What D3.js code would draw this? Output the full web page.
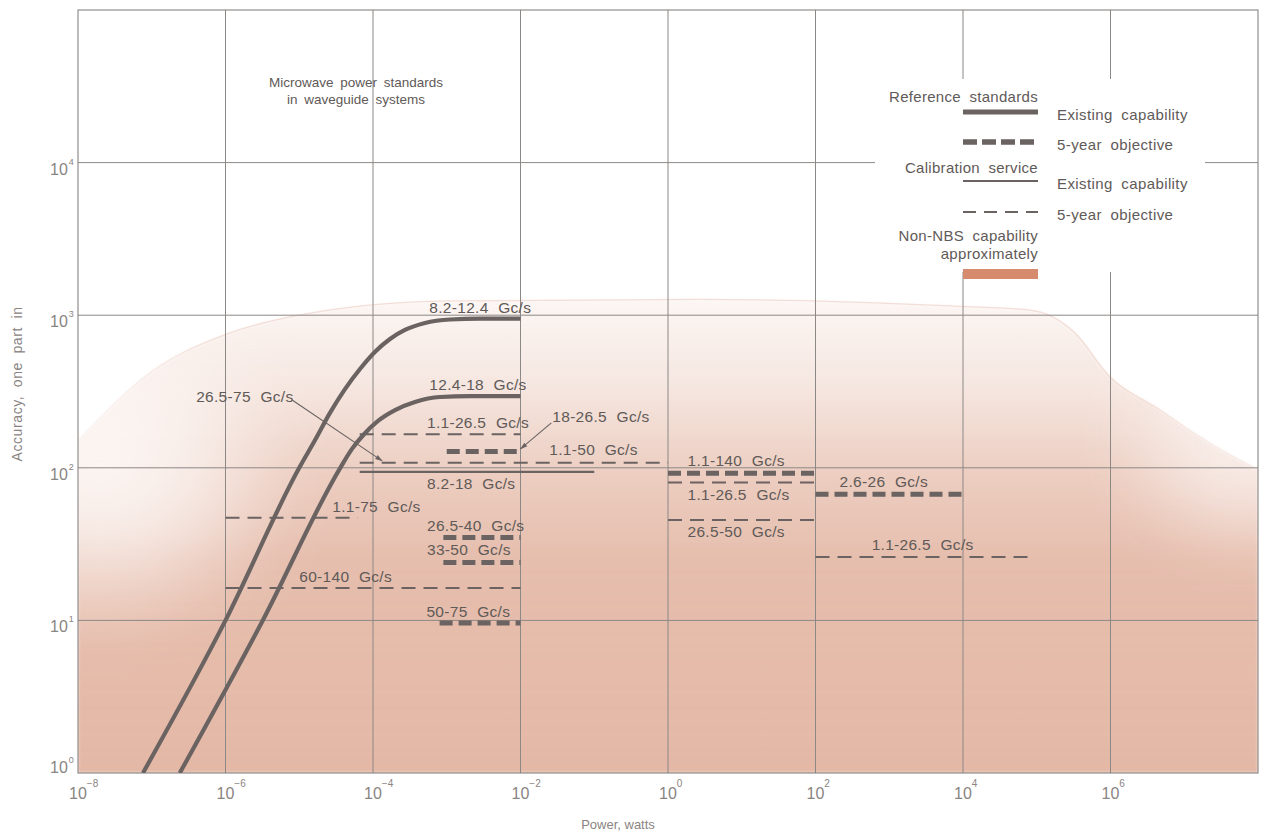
<!DOCTYPE html>
<html>
<head>
<meta charset="utf-8">
<script src="https://cdn.jsdelivr.net/npm/d3@7"></script>
<style>
  body { margin: 0; background: #fff; }
  text { font-family: "Liberation Sans", Arial, sans-serif; fill: #5f5a58; }
</style>
</head>
<body>
<div id="chart"></div>
<script>
// Axis decades
const xDecades = [1e-8, 1e-6, 1e-4, 1e-2, 1, 1e2, 1e4, 1e6];
const xExponents = ["\u22128", "\u22126", "\u22124", "\u22122", "0", "2", "4", "6"];
const yDecades = [1, 10, 100, 1000, 10000];
const yExponents = ["0", "1", "2", "3", "4"];

// Reference standards, existing capability (curves)
const curvePower812 = [7.6e-8, 1e-6, 1e-5, 1.64e-5, 2.61e-5, 4.17e-5, 6.66e-5, 1.06e-4,
                       1.70e-4, 2.71e-4, 5.07e-4, 1.11e-3, 2.82e-3, 1e-2];
const curveAcc812 = [1, 10, 100, 152, 229, 328, 444, 574,
                     698, 800, 889, 937, 950, 950];
const curvePower1218 = [2.4e-7, 3.2e-6, 3.6e-5, 5.19e-5, 7.55e-5, 1.17e-4, 1.99e-4,
                        3.71e-4, 8.1e-4, 2.07e-3, 1e-2];
const curveAcc1218 = [1, 10, 100, 133, 166, 203, 239,
                      270, 291, 295, 295];

// Horizontal capability segments
const segKind = ["refObj", "refObj", "refObj", "refObj", "refObj", "refObj",
                 "calExist",
                 "calObj", "calObj", "calObj", "calObj", "calObj", "calObj", "calObj"];
const segFrom = [1e-3, 9e-4, 9e-4, 8e-4, 1, 100,
                 6.6e-5,
                 6.6e-5, 6.6e-5, 1e-6, 1e-6, 1, 1, 100];
const segTo = [1e-2, 1e-2, 1e-2, 1e-2, 100, 1e4,
               0.1,
               1e-2, 1, 6.2e-5, 1e-2, 100, 100, 8e4];
const segAcc = [128, 35, 24, 9.6, 92, 67,
                94,
                166, 108, 47, 16.3, 80, 45.5, 26];

// Band labels (text, power at left edge, accuracy at middle of text)
const labelText = ["8.2-12.4 Gc/s", "12.4-18 Gc/s", "26.5-75 Gc/s", "1.1-26.5 Gc/s",
                   "18-26.5 Gc/s", "1.1-50 Gc/s", "8.2-18 Gc/s", "1.1-75 Gc/s",
                   "26.5-40 Gc/s", "33-50 Gc/s", "60-140 Gc/s", "50-75 Gc/s",
                   "1.1-140 Gc/s", "1.1-26.5 Gc/s", "26.5-50 Gc/s", "2.6-26 Gc/s",
                   "1.1-26.5 Gc/s"];
const labelPower = [5.8e-4, 5.8e-4, 4.0e-7, 5.4e-4,
                    0.027, 0.0246, 5.4e-4, 2.8e-5,
                    5.4e-4, 5.4e-4, 1.0e-5, 5.3e-4,
                    1.84, 1.84, 1.84, 212,
                    577];
const labelAcc = [1130, 350, 291, 197,
                  215, 131, 79, 56,
                  41.6, 28.9, 19.5, 11.4,
                  112, 67, 38, 81,
                  31.2];

// Leader lines
const leaderFromP = [8.0e-6, 0.0262];
const leaderFromA = [278, 197];
const leaderToP = [1.33e-4, 0.01];
const leaderToA = [111, 133];

// Non-NBS capability region (upper edge)
const regionPower = [1e-8, 9.5e-8, 1.1e-6, 1e-5, 1.1e-3, 2.8, 6800, 8.1e4, 3.3e5, 9.3e5, 4.7e6, 1.9e7, 1e8];
const regionTop = [150, 420, 760, 1000, 1240, 1270, 1150, 1080, 764, 405, 239, 152, 97];

const W = 1263, H = 832;
const ink = "#6a6361";

const svg = d3.select("#chart").append("svg")
    .attr("width", W)
    .attr("height", H);

const x = d3.scaleLog().domain([1e-8, 1e8]).range([78, 1258]);
const y = d3.scaleLog().domain([1, 1e5]).range([773, 10]);

const defs = svg.append("defs");

// Pink shading
const grad = defs.append("linearGradient")
    .attr("id", "pink")
    .attr("gradientUnits", "userSpaceOnUse")
    .attr("x1", 0).attr("x2", 0).attr("y1", 290).attr("y2", 773);
[[0, 0.1], [0.2, 0.35], [0.38, 0.7], [0.56, 0.92], [1, 1]].forEach(s => {
    grad.append("stop").attr("offset", s[0])
        .attr("stop-color", "#e4b8a6").attr("stop-opacity", s[1]);
});

const fade = defs.append("radialGradient").attr("id", "fade");
[[0, 0.85], [0.45, 0.6], [0.75, 0.25], [1, 0]].forEach(s => {
    fade.append("stop").attr("offset", s[0])
        .attr("stop-color", "#fff").attr("stop-opacity", s[1]);
});

defs.append("clipPath").attr("id", "plotClip")
    .append("rect").attr("x", 78).attr("y", 10).attr("width", 1180).attr("height", 763);

defs.append("filter").attr("id", "soft")
    .append("feGaussianBlur").attr("stdDeviation", 1.5);
defs.append("filter").attr("id", "blur")
    .attr("x", "-50%").attr("y", "-50%").attr("width", "200%").attr("height", "200%")
    .append("feGaussianBlur").attr("stdDeviation", 25);

defs.append("marker")
    .attr("id", "arrow")
    .attr("viewBox", "0 0 10 10")
    .attr("refX", 9).attr("refY", 5)
    .attr("markerWidth", 7).attr("markerHeight", 7)
    .attr("orient", "auto")
    .append("path").attr("d", "M0,2L10,5L0,8Z").attr("fill", ink);

const regionData = regionPower.map((p, i) => ({p: p, a: regionTop[i]}));
const shade = svg.append("g").attr("clip-path", "url(#plotClip)");

shade.append("path")
    .datum(regionData)
    .attr("fill", "url(#pink)")
    .attr("filter", "url(#soft)")
    .attr("d", d3.area()
        .x(d => x(d.p))
        .y0(y(1))
        .y1(d => y(d.a))
        .curve(d3.curveMonotoneX));

// faint edge of the airbrushed area
shade.append("path")
    .datum(regionData)
    .attr("fill", "none")
    .attr("stroke", "#d9a08c")
    .attr("stroke-opacity", 0.3)
    .attr("stroke-width", 1.2)
    .attr("d", d3.line()
        .x(d => x(d.p))
        .y(d => y(d.a))
        .curve(d3.curveMonotoneX));

// lighter areas on the left and right of the shading
shade.append("ellipse")
    .attr("cx", 100).attr("cy", 470).attr("rx", 210).attr("ry", 175)
    .attr("fill", "url(#fade)")
    .attr("filter", "url(#blur)");
shade.append("ellipse")
    .attr("cx", 1250).attr("cy", 440).attr("rx", 150).attr("ry", 130)
    .attr("fill", "url(#fade)")
    .attr("opacity", 0.8)
    .attr("filter", "url(#blur)");

// Grid
const grid = svg.append("g")
    .attr("stroke", "#8c8886")
    .attr("stroke-width", 1)
    .attr("fill", "none");

xDecades.slice(1).forEach(v => {
    const gx = x(v);
    if (v >= 1e4) {
        grid.append("line").attr("x1", gx).attr("x2", gx).attr("y1", 10).attr("y2", 79);
        grid.append("line").attr("x1", gx).attr("x2", gx).attr("y1", 272).attr("y2", 773);
    } else {
        grid.append("line").attr("x1", gx).attr("x2", gx).attr("y1", 10).attr("y2", 773);
    }
});

yDecades.slice(1).forEach(v => {
    const gy = y(v);
    if (v === 1e4) {
        grid.append("line").attr("x1", 78).attr("x2", 875).attr("y1", gy).attr("y2", gy);
        grid.append("line").attr("x1", 1205).attr("x2", 1258).attr("y1", gy).attr("y2", gy);
    } else {
        grid.append("line").attr("x1", 78).attr("x2", 1258).attr("y1", gy).attr("y2", gy);
    }
});

grid.append("rect")
    .attr("x", 78).attr("y", 10)
    .attr("width", 1180).attr("height", 763)
    .attr("stroke", "#7d7977");

// Tick labels
const xt = svg.append("g");
xDecades.forEach((v, i) => {
    const t = xt.append("text")
        .attr("x", x(v) - 9)
        .attr("y", 799)
        .attr("font-size", 16)
        .style("fill", "#8a8482");
    t.append("tspan").text("10");
    t.append("tspan").attr("dy", -12).attr("font-size", 10).text(xExponents[i]);
});

const yt = svg.append("g");
yDecades.forEach((v, i) => {
    const t = yt.append("text")
        .attr("x", 50)
        .attr("y", Math.min(y(v) + 12, 773))
        .attr("font-size", 16)
        .style("fill", "#8a8482");
    t.append("tspan").text("10");
    t.append("tspan").attr("dy", -10).attr("dx", 1).attr("font-size", 9).text(yExponents[i]);
});

svg.append("text")
    .attr("transform", "translate(22,384) rotate(-90)")
    .attr("text-anchor", "middle")
    .attr("font-size", 14)
    .attr("letter-spacing", 0.6)
    .attr("word-spacing", 4)
    .style("fill", "#8a8482")
    .text("Accuracy, one part in");

svg.append("text")
    .attr("x", 618).attr("y", 829)
    .attr("text-anchor", "middle")
    .attr("font-size", 13)
    .style("fill", "#8a8482")
    .text("Power, watts");

// Reference standards: existing capability curves
const curveLine = d3.line()
    .x(d => x(d.p))
    .y(d => y(d.a))
    .curve(d3.curveMonotoneX);

const marks = svg.append("g").attr("clip-path", "url(#plotClip)");

[[curvePower812, curveAcc812], [curvePower1218, curveAcc1218]].forEach(c => {
    marks.append("path")
        .datum(c[0].map((p, i) => ({p: p, a: c[1][i]})))
        .attr("fill", "none")
        .attr("stroke", ink)
        .attr("stroke-width", 4.2)
        .attr("d", curveLine);
});

// Horizontal segments
const segStyle = {
    refObj: {w: 5, dash: "13,6"},
    calExist: {w: 2.2, dash: null},
    calObj: {w: 2, dash: "14,8"}
};

marks.selectAll(".seg")
    .data(segAcc.map((a, i) => ({a: a, p0: segFrom[i], p1: segTo[i], k: segKind[i]})))
    .enter().append("line")
    .attr("class", "seg")
    .attr("x1", d => x(d.p0))
    .attr("x2", d => x(d.p1))
    .attr("y1", d => y(d.a))
    .attr("y2", d => y(d.a))
    .attr("stroke", ink)
    .attr("stroke-width", d => segStyle[d.k].w)
    .attr("stroke-dasharray", d => segStyle[d.k].dash);

// Leader lines
leaderFromP.forEach((p, i) => {
    svg.append("line")
        .attr("x1", x(p)).attr("y1", y(leaderFromA[i]))
        .attr("x2", x(leaderToP[i])).attr("y2", y(leaderToA[i]))
        .attr("stroke", ink)
        .attr("stroke-width", 1.1)
        .attr("marker-end", "url(#arrow)");
});

// Band labels
svg.append("g").selectAll("text")
    .data(labelText)
    .enter().append("text")
    .attr("x", (d, i) => x(labelPower[i]))
    .attr("y", (d, i) => y(labelAcc[i]))
    .attr("dy", "0.35em")
    .attr("font-size", 15.5)
    .attr("letter-spacing", 0.3)
    .attr("word-spacing", 5)
    .text(d => d);

// Title
svg.append("text")
    .attr("x", 356).attr("y", 87)
    .attr("text-anchor", "middle")
    .attr("font-size", 13.5)
    .attr("word-spacing", 3)
    .text("Microwave power standards");
svg.append("text")
    .attr("x", 356).attr("y", 104)
    .attr("text-anchor", "middle")
    .attr("font-size", 13.5)
    .attr("word-spacing", 3)
    .text("in waveguide systems");

// Legend
const lg = svg.append("g");
const legRight = 1038, legLeft = 963, legTextX = 1057;
const headers = [["Reference standards", 102], ["Calibration service", 173],
                 ["Non-NBS capability", 241], ["approximately", 259]];
headers.forEach(h => {
    lg.append("text")
        .attr("x", legRight).attr("y", h[1])
        .attr("text-anchor", "end")
        .attr("font-size", 15)
        .attr("letter-spacing", 0.3)
        .attr("word-spacing", 4)
        .text(h[0]);
});

const legRows = [
    {yy: 112, w: 5, dash: null, label: "Existing capability"},
    {yy: 142, w: 5.5, dash: "14,5", label: "5-year objective"},
    {yy: 181, w: 2.2, dash: null, label: "Existing capability"},
    {yy: 212, w: 2, dash: "13,8", label: "5-year objective"}
];
legRows.forEach(r => {
    lg.append("line")
        .attr("x1", legLeft).attr("x2", legRight)
        .attr("y1", r.yy).attr("y2", r.yy)
        .attr("stroke", ink)
        .attr("stroke-width", r.w)
        .attr("stroke-dasharray", r.dash);
    lg.append("text")
        .attr("x", legTextX).attr("y", r.yy + 3)
        .attr("dy", "0.35em")
        .attr("font-size", 15)
        .attr("letter-spacing", 0.4)
        .attr("word-spacing", 4)
        .text(r.label);
});

lg.append("rect")
    .attr("x", legLeft).attr("y", 269)
    .attr("width", legRight - legLeft).attr("height", 10)
    .attr("fill", "#d68a6e");
</script>
</body>
</html>
